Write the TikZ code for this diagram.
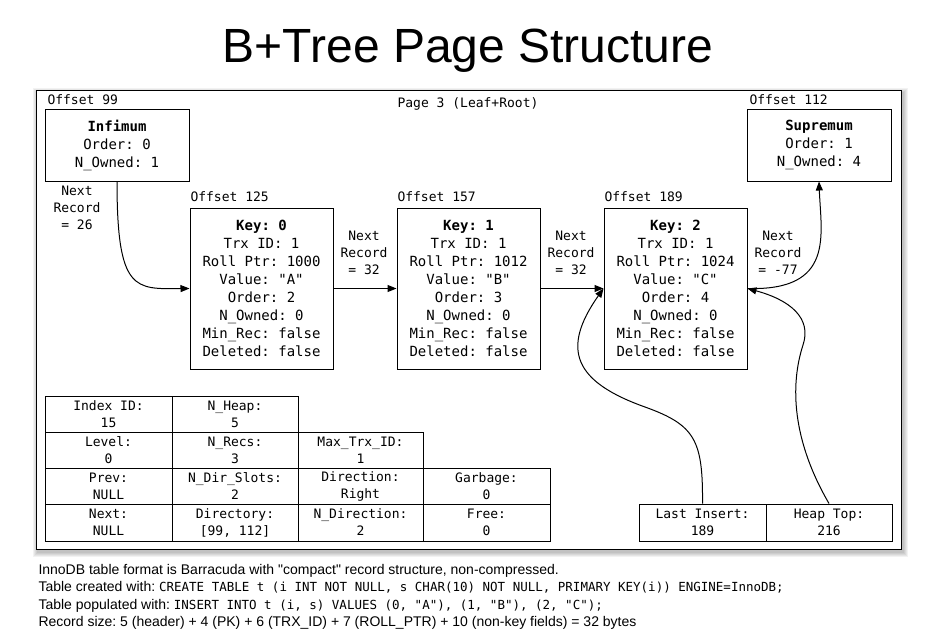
\documentclass[tikz,border=0pt]{standalone}
\usepackage{fontspec}
\setmainfont{Liberation Sans}
\newfontfamily\dmono{DejaVu Sans Mono}
\usetikzlibrary{arrows.meta}
\newcommand\fsz[2]{\fontsize{#1}{#2}\selectfont}
\begin{document}
\frenchspacing
\begin{tikzpicture}[x=1pt,y=-1pt, line width=1pt,
  rec/.style={draw, rectangle, inner sep=0pt, align=center, font=\dmono\fsz{14}{18}, minimum width=143pt, minimum height=161pt},
  sys/.style={draw, rectangle, inner sep=0pt, align=center, font=\dmono\fsz{14}{18}, minimum width=144pt, minimum height=72pt},
  lbl/.style={inner sep=0pt, anchor=base west, font=\dmono\fsz{13}{17}},
  nxt/.style={inner sep=0pt, align=center, font=\dmono\fsz{13}{17}},
  cell/.style={draw, rectangle, inner sep=0pt, align=center, font=\dmono\fsz{13}{17}, minimum height=36pt},
  foot/.style={inner sep=0pt, anchor=base west, font=\fsz{14}{17}},
  code/.style={},
  arr/.style={-{Triangle[length=9pt,width=7pt]}},
]
\useasboundingbox[fill=white] (0,0) rectangle (936,643);
% title
\node[anchor=base, inner sep=0pt, font=\fsz{48}{56}] (title) at (468,62) {B+Tree Page Structure};
% page shadow and frame
\foreach \i in {1,...,5}{
  \fill[black, opacity=0.05] (38-\i,93-\i) rectangle (903+\i,552+\i);
}
\node[draw, fill=white, rectangle, inner sep=0pt, minimum width=865pt, minimum height=459pt] (page) at (468.5,319.5) {};
\node[inner sep=0pt, anchor=base, font=\dmono\fsz{13}{17}] (pagelbl) at (468,107) {Page 3 (Leaf+Root)};
% system records
\node[lbl] (o99) at (47,104) {Offset 99};
\node[sys] (inf) at (117,145) {\textbf{Infimum}\\Order: 0\\N\_Owned: 1};
\node[lbl] (o112) at (749,104) {Offset 112};
\node[sys] (sup) at (819,145) {\textbf{Supremum}\\Order: 1\\N\_Owned: 4};
% user records
\node[lbl] (o125) at (190,201) {Offset 125};
\node[rec] (k0) at (261.5,288.5) {\textbf{Key: 0}\\Trx ID: 1\\Roll Ptr: 1000\\Value: "A"\\Order: 2\\N\_Owned: 0\\Min\_Rec: false\\Deleted: false};
\node[lbl] (o157) at (397,201) {Offset 157};
\node[rec] (k1) at (468.5,288.5) {\textbf{Key: 1}\\Trx ID: 1\\Roll Ptr: 1012\\Value: "B"\\Order: 3\\N\_Owned: 0\\Min\_Rec: false\\Deleted: false};
\node[lbl] (o189) at (604,201) {Offset 189};
\node[rec] (k2) at (675.5,288.5) {\textbf{Key: 2}\\Trx ID: 1\\Roll Ptr: 1024\\Value: "C"\\Order: 4\\N\_Owned: 0\\Min\_Rec: false\\Deleted: false};
% next record labels
\node[nxt] (n26) at (77,208) {Next\\Record\\= 26};
\node[nxt] (n32a) at (364,253) {Next\\Record\\= 32};
\node[nxt] (n32b) at (571,253) {Next\\Record\\= 32};
\node[nxt] (n77) at (778,253) {Next\\Record\\= -77};
% header table
\node[cell, minimum width=127pt] (c11) at (108.5,414) {Index ID:\\15};
\node[cell, minimum width=126pt] (c12) at (235,414) {N\_Heap:\\5};
\node[cell, minimum width=127pt] (c21) at (108.5,450) {Level:\\0};
\node[cell, minimum width=126pt] (c22) at (235,450) {N\_Recs:\\3};
\node[cell, minimum width=125pt] (c23) at (360.5,450) {Max\_Trx\_ID:\\1};
\node[cell, minimum width=127pt] (c31) at (108.5,486) {Prev:\\NULL};
\node[cell, minimum width=126pt] (c32) at (235,486) {N\_Dir\_Slots:\\2};
\node[cell, minimum width=125pt] (c33) at (360.5,486) {Direction:\\Right};
\node[cell, minimum width=127pt] (c34) at (486.5,486) {Garbage:\\0};
\node[cell, minimum width=127pt, minimum height=37pt] (c41) at (108.5,522.5) {Next:\\NULL};
\node[cell, minimum width=126pt, minimum height=37pt] (c42) at (235,522.5) {Directory:\\{[99, 112]}};
\node[cell, minimum width=125pt, minimum height=37pt] (c43) at (360.5,522.5) {N\_Direction:\\2};
\node[cell, minimum width=127pt, minimum height=37pt] (c44) at (486.5,522.5) {Free:\\0};
\node[cell, minimum width=127pt, minimum height=37pt] (li) at (702.5,522.5) {Last Insert:\\189};
\node[cell, minimum width=126pt, minimum height=37pt] (ht) at (829,522.5) {Heap Top:\\216};
% connectors
\draw[arr] (inf.south) .. controls (117,292) and (135,289) .. (k0.west);
\draw[arr] (k0.east) -- (k1.west);
\draw[arr] (k1.east) -- (k2.west);
\draw[arr] (k2.east) .. controls (835,291) and (821,235) .. (sup.south);
\draw[arr] (li.north) .. controls (703,440) and (695,425) .. (645,407) .. controls (575,382) and (560,350) .. (k2.west);
\draw[arr] (ht.north) .. controls (792,440) and (790,385) .. (803,345) .. controls (812,318) and (790,300) .. (k2.east);
% footnote
\node[foot] (f1) at (38,574) {InnoDB table format is Barracuda with \textquotedbl compact\textquotedbl\ record structure, non-compressed.};
\node[foot] (f2) at (38,591) {Table created with: {\dmono\fsz{12.5}{17}CREATE TABLE t (i INT NOT NULL, s CHAR(10) NOT NULL, PRIMARY KEY(i)) ENGINE=InnoDB;}};
\node[foot] (f3) at (38,609) {Table populated with: {\dmono\fsz{12.5}{17}INSERT INTO t (i, s) VALUES (0, "A"), (1, "B"), (2, "C");}};
\node[foot] (f4) at (38,626) {Record size: 5 (header) + 4 (PK) + 6 (TRX\_ID) + 7 (ROLL\_PTR) + 10 (non-key fields) = 32 bytes};
\end{tikzpicture}
\end{document}
